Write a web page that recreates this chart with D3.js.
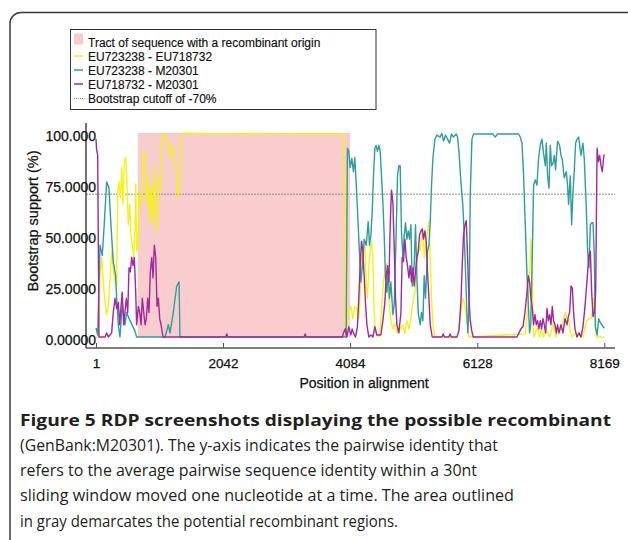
<!DOCTYPE html>
<html>
<head>
<meta charset="utf-8">
<script src="https://cdn.jsdelivr.net/npm/d3@7"></script>
<style>
  html, body { margin: 0; padding: 0; background: #fff; }
  svg { display: block; }
</style>
</head>
<body>
<svg id="chart" width="628" height="540"></svg>
<script>
// ---- data ----
const xTicks = [1, 2042, 4084, 6128, 8169];
const yTicks = [0, 25, 50, 75, 100];
const yTickLabels = ["0.00000", "25.0000", "50.0000", "75.0000", "100.000"];
const legendLabels = [
  "Tract of sequence with a recombinant origin",
  "EU723238 - EU718732",
  "EU723238 - M20301",
  "EU718732 - M20301",
  "Bootstrap cutoff of -70%"
];
const recombinantTract = [672, 4084];
const cutoffValue = 70;

// [position in alignment, bootstrap support %]
const yellowSeries = [
  [1,0],[38,0],[65,30],[93,39],[118,27],[146,17],[172,11],[199,15],[226,27],[253,42],[278,34],[307,27],[333,25],
  [350,71],[371,76],[392,68],[414,83],[435,65],[456,86],[479,88],[499,75],[520,55],[543,65],[564,50],[585,45],
  [607,39],[628,55],[639,75],[654,42],[672,44],[692,71],[713,65],[736,73],[762,91],[789,89],[816,65],[842,78],
  [869,56],[885,73],[913,55],[938,83],[961,66],[982,52],[1009,78],[1030,71],[1046,94],[1067,99.5],[1111,99],
  [1143,94],[1164,95],[1196,88],[1228,94],[1260,86],[1292,81],[1324,68],[1352,78],[1368,99],[1405,100],
  [2000,99.5],[2600,99.8],[3200,99.5],[3957,99.5],[3978,95],[3994,70],[4005,15],[4021,1.5],[4058,12],[4097,15],
  [4129,9],[4160,15],[4193,14],[4224,9],[4257,27],[4278,42],[4299,39],[4322,45],[4343,25],[4363,19],[4385,34],
  [4407,42],[4428,47],[4450,39],[4471,12],[4492,2],[4547,0],[4568,5],[4600,19],[4621,27],[4653,34],[4675,36],
  [4696,22],[4717,15],[4739,8],[4772,4],[4804,6],[4836,2],[4868,5],[4901,4],[4932,6],[4965,2],[4997,8],[5029,4],
  [5061,9],[5094,17],[5126,22],[5147,32],[5167,39],[5190,45],[5211,42],[5232,48],[5254,52],[5275,39],[5296,45],
  [5328,52],[5351,56.5],[5372,39],[5393,19],[5415,6],[5447,0],[5801,0],[5833,4],[5865,12],[5897,19],[5930,15],
  [5962,8],[5994,0],[6899,1.5],[6936,12],[6969,30],[6991,48],[7007,35],[7033,0],[7097,5],[7129,0],[7160,4],
  [7193,0],[7226,4],[7258,2],[7290,0],[7322,3],[7354,8],[7386,0],[7418,3],[7451,2],[7483,5],[7515,9],[7547,12],
  [7570,9],[7591,10],[7612,5],[7644,0],[7708,2],[7784,0],[7826,0],[7859,5],[7890,8],[7923,9],[7956,9],[7977,12],
  [7998,19],[8020,9],[8041,0],[8169,0]
];

const tealSeries = [
  [1,4.4],[28,1],[65,45],[102,40],[133,55],[172,76],[209,73],[241,55],[278,37],[317,30],[333,19],[359,6],[386,0],
  [423,16],[466,6],[494,12],[547,8],[627,3],[654,0],[1110,0],[1163,6],[1190,2],[1243,12],[1298,25],[1335,27],
  [1351,0],[4021,0],[4041,92.5],[4064,91],[4085,83],[4112,87.6],[4138,81],[4160,88],[4181,76],[4202,63],[4224,48],
  [4257,27],[4283,35],[4310,48],[4343,45],[4375,56.5],[4396,45],[4418,50],[4439,61],[4460,79],[4482,92.5],
  [4503,94],[4524,91],[4547,94],[4568,91],[4589,79],[4611,66],[4632,50],[4653,29],[4675,22],[4696,32],[4717,19],
  [4739,27],[4772,11],[4793,16],[4825,52],[4846,79],[4868,84],[4889,84],[4910,52],[4932,38.6],[4954,50],[4975,56],
  [4997,48],[5018,52],[5039,48],[5061,55],[5082,25],[5114,35],[5135,55],[5158,29],[5179,12],[5211,6],[5232,12],
  [5254,8],[5275,30],[5296,19],[5328,42],[5351,45],[5372,56.5],[5393,74.5],[5415,87.6],[5447,97],[5479,99],
  [5532,98],[5559,99.8],[5585,96],[5617,99],[5649,97],[5682,95],[5714,99.5],[5746,98],[5790,99.5],[5811,98],
  [5833,91],[5865,76],[5897,64],[5918,50],[5939,32],[5961,12],[5977,2],[5999,20],[6015,70],[6042,97],[6068,99.5],
  [6380,99.5],[6417,98],[6450,99.5],[6791,99.5],[6819,98],[6846,95],[6872,79],[6899,55],[6927,30],[6952,14],
  [6968,2],[6987,6],[7012,40],[7033,74.5],[7060,77],[7087,74.5],[7113,87.7],[7140,94],[7167,97],[7193,90],
  [7221,84],[7237,95],[7258,79],[7280,73],[7301,94],[7322,84],[7344,85],[7366,89],[7386,82],[7418,96],[7451,94],
  [7473,89],[7494,87],[7526,78],[7558,81],[7579,74.5],[7595,65],[7623,79],[7644,55],[7666,71],[7687,82],[7708,95],
  [7730,97],[7756,98],[7769,95],[7794,89],[7826,95],[7848,87],[7880,63],[7901,42],[7923,34],[7945,55],[7966,56],
  [7988,56],[8009,39],[8025,5],[8053,1],[8079,9],[8105,7],[8132,6],[8158,4.5],[8169,5]
];

const purpleSeries = [
  [1,97],[10,92],[28,89],[49,0],[146,0],[172,2],[199,0],[226,1],[253,2],[278,12],[307,19],[333,14],[359,17],
  [382,6],[403,15],[423,22],[446,6],[466,12],[488,19],[511,12],[532,34],[553,32],[575,39],[596,35],[617,39],
  [639,22],[654,6],[681,15],[704,12],[725,6],[745,19],[768,12],[789,6],[810,9],[832,19],[853,12],[874,32],
  [897,39],[918,29],[938,45],[961,39],[982,15],[1003,19],[1025,9],[1046,6],[1078,0],[2085,0],[2103,1.5],
  [2120,0],[3345,0],[3362,1.5],[3380,0],[3960,0],[3978,2],[4005,4],[4032,0],[4064,5],[4097,1],[4117,4],[4138,2],
  [4171,0],[4202,5],[4224,19],[4246,35],[4267,47],[4289,42],[4310,30],[4331,17],[4354,6],[4385,0],[4418,1],
  [4450,0],[4482,5],[4515,1],[4579,1],[4611,8],[4643,17],[4664,29],[4685,35],[4708,27],[4729,55],[4749,72],
  [4772,66],[4793,44],[4814,19],[4836,6],[4868,2],[4901,12],[4921,39],[4942,37],[4964,48],[4986,39],[5007,35],
  [5029,29],[5050,35],[5071,27],[5094,34],[5114,25],[5135,32],[5158,39],[5179,42],[5200,50],[5222,52],[5243,53],
  [5264,48],[5286,52],[5307,47],[5328,32],[5351,19],[5372,6],[5404,0],[5560,0],[5580,1.5],[5600,0],[5670,0],
  [5692,1.5],[5710,0],[5801,0],[5833,3],[5865,17],[5886,35],[5907,50],[5930,55],[5951,57],[5971,40],[5994,19],
  [6015,8],[6039,3],[6063,0],[6766,0],[6798,2],[6830,4],[6862,5],[6894,12],[6927,22],[6948,30],[6968,27],
  [6991,19],[7012,14],[7033,6],[7055,11],[7076,6],[7097,8],[7119,4],[7140,8],[7161,4],[7184,9],[7205,6],[7226,2],
  [7248,14],[7269,8],[7290,11],[7312,6],[7333,15],[7354,8],[7377,6],[7398,2],[7418,6],[7441,2],[7473,6],[7505,2],
  [7538,9],[7570,6],[7591,10],[7612,12],[7634,25],[7655,24],[7676,12],[7698,4],[7730,0],[7763,2],[7794,0],
  [7826,5],[7859,15],[7890,27],[7917,39],[7945,42],[7966,22],[7988,10],[8009,12],[8030,22],[8053,92.5],[8073,86],
  [8094,89],[8116,84],[8137,81],[8158,88],[8169,89.5]
];

const captionLines = [
  "Figure 5 RDP screenshots displaying the possible recombinant",
  "(GenBank:M20301). The y-axis indicates the pairwise identity that",
  "refers to the average pairwise sequence identity within a 30nt",
  "sliding window moved one nucleotide at a time. The area outlined",
  "in gray demarcates the potential recombinant regions."
];
const captionWidths = [591, 478, 457, 494, 378];

// ---- drawing ----
const svg = d3.select("#chart");
const axisFont = "'Liberation Sans', Arial, sans-serif";
const colors = { yellow: "#f5f21a", teal: "#2f9e9c", purple: "#a02a9e", tract: "#f9cdcd" };

const x = d3.scaleLinear().domain([1, 8169]).range([96, 604.3]);
const y = d3.scaleLinear().domain([0, 100]).range([337, 133]);

// outer rounded frame of the figure panel
svg.append("rect")
  .attr("x", 10).attr("y", 12.5)
  .attr("width", 650).attr("height", 560)
  .attr("rx", 11)
  .attr("fill", "none")
  .attr("stroke", "#3a3a3a")
  .attr("stroke-width", 1.5);

// recombinant tract
svg.append("rect")
  .attr("x", x(recombinantTract[0]))
  .attr("y", y(100))
  .attr("width", x(recombinantTract[1]) - x(recombinantTract[0]))
  .attr("height", y(0) - y(100))
  .attr("fill", colors.tract);

// bootstrap cutoff
svg.append("line")
  .attr("x1", 86).attr("x2", 615)
  .attr("y1", y(cutoffValue)).attr("y2", y(cutoffValue))
  .attr("stroke", "#8a8a8a")
  .attr("stroke-width", 1)
  .attr("stroke-dasharray", "2,1");

// series lines
const line = d3.line().x(d => x(d[0])).y(d => y(d[1]));
[[yellowSeries, colors.yellow], [tealSeries, colors.teal], [purpleSeries, colors.purple]]
  .forEach(([data, color]) => {
    svg.append("path")
      .datum(data)
      .attr("d", line)
      .attr("fill", "none")
      .attr("stroke", color)
      .attr("stroke-width", 1.4)
      .attr("stroke-linejoin", "round");
  });

// axis lines (drawn a bit outside the plotting range like RDP does)
svg.append("line")
  .attr("x1", 86).attr("x2", 86).attr("y1", 123).attr("y2", 348)
  .attr("stroke", "#444").attr("stroke-width", 1.5);
svg.append("line")
  .attr("x1", 86).attr("x2", 615).attr("y1", 348).attr("y2", 348)
  .attr("stroke", "#555").attr("stroke-width", 1.5);

// x axis ticks + labels
const xAxis = svg.append("g")
  .attr("transform", "translate(0,348)")
  .call(d3.axisBottom(x).tickValues(xTicks).tickFormat(d3.format("d"))
    .tickSizeInner(-5).tickSizeOuter(0).tickPadding(10.5));
xAxis.select(".domain").remove();
xAxis.selectAll("line").attr("stroke", "#555");
xAxis.selectAll("text")
  .attr("font-family", axisFont).attr("font-size", "13.5px").attr("fill", "#111")
  .attr("stroke", "#111").attr("stroke-width", 0.25);

// y axis labels (they overlap the axis line in the original)
const yAxis = svg.append("g")
  .attr("transform", "translate(96,3.5)")
  .call(d3.axisLeft(y).tickValues(yTicks).tickFormat((d, i) => yTickLabels[i])
    .tickSize(0).tickPadding(0));
yAxis.select(".domain").remove();
yAxis.selectAll("text")
  .attr("font-family", axisFont).attr("font-size", "14px").attr("fill", "#111")
  .attr("stroke", "#111").attr("stroke-width", 0.25);

// axis titles
svg.append("text")
  .attr("x", 364).attr("y", 388)
  .attr("text-anchor", "middle")
  .attr("font-family", axisFont).attr("font-size", "14px").attr("fill", "#111")
  .attr("stroke", "#111").attr("stroke-width", 0.25)
  .text("Position in alignment");
svg.append("text")
  .attr("transform", "translate(38,221) rotate(-90)")
  .attr("text-anchor", "middle")
  .attr("font-family", axisFont).attr("font-size", "14.5px").attr("fill", "#111")
  .attr("stroke", "#111").attr("stroke-width", 0.25)
  .text("Bootstrap support (%)");

// legend
const legend = svg.append("g");
legend.append("rect")
  .attr("x", 70.5).attr("y", 29.5).attr("width", 305.5).attr("height", 80)
  .attr("fill", "#fff").attr("stroke", "#333").attr("stroke-width", 1);
const rowY = i => 46.5 + i * 14;
legend.append("rect")
  .attr("x", 74).attr("y", 33.5).attr("width", 9).attr("height", 11)
  .attr("fill", colors.tract);
[colors.yellow, colors.teal, colors.purple].forEach((c, i) => {
  legend.append("line")
    .attr("x1", 74).attr("x2", 83)
    .attr("y1", rowY(i + 1) - 4.5).attr("y2", rowY(i + 1) - 4.5)
    .attr("stroke", c).attr("stroke-width", 1.5);
});
legend.append("line")
  .attr("x1", 74).attr("x2", 83)
  .attr("y1", rowY(4) - 4).attr("y2", rowY(4) - 4)
  .attr("stroke", "#888").attr("stroke-width", 1).attr("stroke-dasharray", "1,1");
legend.selectAll("text.leg")
  .data(legendLabels)
  .enter().append("text")
  .attr("class", "leg")
  .attr("x", 88).attr("y", (d, i) => rowY(i))
  .attr("font-family", axisFont).attr("font-size", "12px").attr("fill", "#111")
  .attr("stroke", "#111").attr("stroke-width", 0.15)
  .text(d => d);

// caption
svg.selectAll("text.cap")
  .data(captionLines)
  .enter().append("text")
  .attr("class", "cap")
  .attr("x", 20)
  .attr("y", (d, i) => 425.7 + i * 25.2)
  .attr("font-family", "'Open Sans', 'Noto Sans', sans-serif")
  .attr("font-size", "16.5px")
  .attr("font-weight", (d, i) => i === 0 ? 700 : 400)
  .attr("fill", "#231f20")
  .attr("textLength", (d, i) => captionWidths[i])
  .attr("lengthAdjust", "spacingAndGlyphs")
  .text(d => d);
</script>
</body>
</html>
